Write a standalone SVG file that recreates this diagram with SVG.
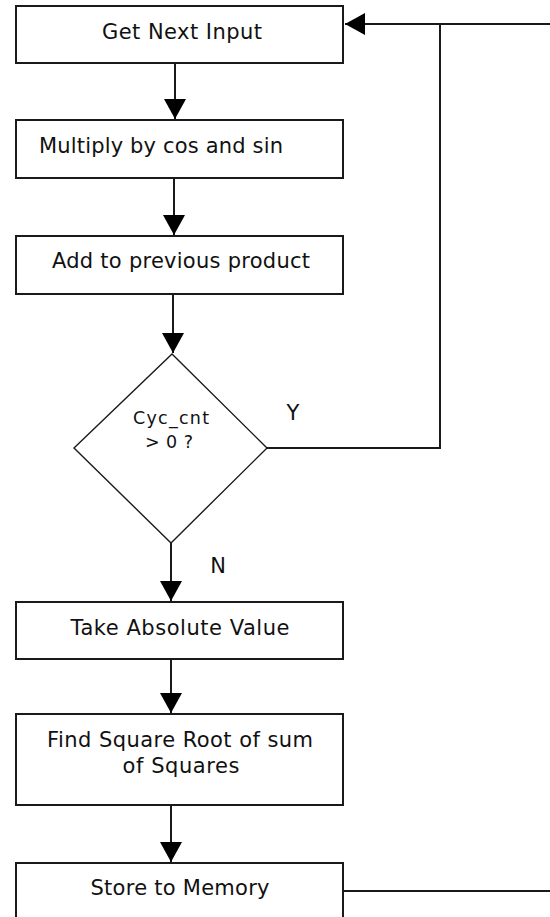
<svg xmlns="http://www.w3.org/2000/svg" width="550" height="917" viewBox="0 0 550 917">
<style>
.box{fill:#fff;stroke:#1a1a1a;stroke-width:2}
.dia{fill:#fff;stroke:#1a1a1a;stroke-width:1.4}
.t{font-family:"DejaVu Sans",Verdana,sans-serif;font-size:21px;fill:#111;text-anchor:middle}
.ts{font-family:"DejaVu Sans",Verdana,sans-serif;font-size:17.5px;fill:#111;text-anchor:middle}
.ln{fill:none;stroke:#1a1a1a;stroke-width:2}
</style>
<defs>
<marker id="ah" markerUnits="userSpaceOnUse" markerWidth="20" markerHeight="22" refX="20" refY="11" orient="auto" viewBox="0 0 20 22">
<path d="M0,0 L20,11 L0,22 z" fill="#000"/>
</marker>
</defs>
<rect width="550" height="917" fill="#fff"/>
<g id="connectors">
<path class="ln" d="M175,64 V119" marker-end="url(#ah)"/>
<path class="ln" d="M174,178 V235" marker-end="url(#ah)"/>
<path class="ln" d="M173,294 V353" marker-end="url(#ah)"/>
<path class="ln" d="M171,543 V601" marker-end="url(#ah)"/>
<path class="ln" d="M171,659 V713" marker-end="url(#ah)"/>
<path class="ln" d="M171,805 V862" marker-end="url(#ah)"/>
<path class="ln" d="M267,448 H440 V24"/>
<path class="ln" d="M550,24 H345" marker-end="url(#ah)"/>
<path class="ln" d="M343,891 H550"/>
</g>
<g id="get-next-input">
<rect class="box" x="16" y="6" width="327" height="57"/>
<text class="t" x="182" y="39" textLength="160" lengthAdjust="spacing">Get Next Input</text>
</g>
<g id="multiply">
<rect class="box" x="16" y="120" width="327" height="58"/>
<text class="t" x="161" y="153" textLength="244" lengthAdjust="spacing">Multiply by cos and sin</text>
</g>
<g id="add-product">
<rect class="box" x="16" y="236" width="327" height="58"/>
<text class="t" x="181" y="268" textLength="258" lengthAdjust="spacing">Add to previous product</text>
</g>
<g id="decision">
<polygon class="dia" points="172,354 267,448 171,543 74,448"/>
<text class="ts" x="171" y="424" textLength="76" lengthAdjust="spacing">Cyc_cnt</text>
<text class="ts" x="169" y="448" textLength="48" lengthAdjust="spacing">&gt; 0 ?</text>
</g>
<g id="labels">
<text class="t" x="293" y="420">Y</text>
<text class="t" x="218" y="573">N</text>
</g>
<g id="absolute">
<rect class="box" x="16" y="602" width="327" height="57"/>
<text class="t" x="180" y="635" textLength="219" lengthAdjust="spacing">Take Absolute Value</text>
</g>
<g id="sqrt">
<rect class="box" x="16" y="714" width="327" height="91"/>
<text class="t" x="180" y="747" textLength="266" lengthAdjust="spacing">Find Square Root of sum</text>
<text class="t" x="181" y="773" textLength="117" lengthAdjust="spacing">of Squares</text>
</g>
<g id="store">
<rect class="box" x="16" y="863" width="327" height="70"/>
<text class="t" x="180" y="895" textLength="179" lengthAdjust="spacing">Store to Memory</text>
</g>
</svg>
